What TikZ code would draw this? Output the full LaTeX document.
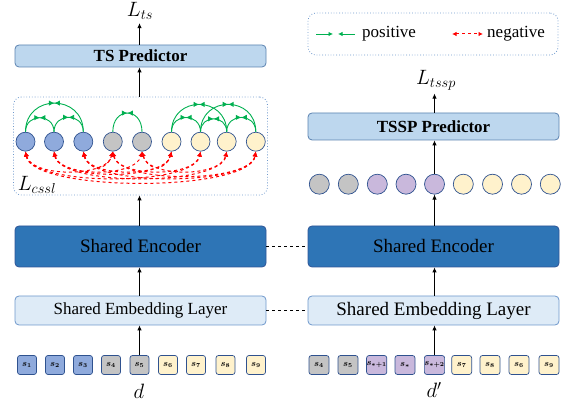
\documentclass[tikz,border=0pt]{standalone}
\usepackage{fontspec}
\setmainfont{Liberation Serif}[BoldFont={Liberation Serif Bold}, ItalicFont={Liberation Serif Italic}]
\usepackage{xcolor}
\usetikzlibrary{arrows, arrows.meta, calc, positioning, decorations.markings}
\definecolor{predblue}{HTML}{BDD7EE}
\definecolor{predline}{HTML}{5B82B0}
\definecolor{encblue}{HTML}{2E75B6}
\definecolor{encline}{HTML}{2F5597}
\definecolor{embblue}{HTML}{DEEBF7}
\definecolor{embline}{HTML}{6E98CC}
\definecolor{tokline}{HTML}{2F528F}
\definecolor{tokblue}{HTML}{8FAADC}
\definecolor{tokgrey}{HTML}{C4C4C4}
\definecolor{tokyellow}{HTML}{FFF2CC}
\definecolor{tokpurple}{HTML}{C9B8DC}
\definecolor{posgreen}{HTML}{00B050}
\definecolor{negred}{HTML}{FF0000}
\tikzset{
  % Graph arrow style
  garr/.style={
    line width = 0.8pt
    , -{Latex[length=5pt, width=4.5pt]}
  },
  % layer box style
  layer/.style={
    draw
    , line width=0.8pt
    , rounded corners=4pt
    , anchor=center
    , text centered
    , inner sep=0pt
    , minimum width=251pt
  },
  % token and circle styles
  tok/.style={
    draw=tokline
    , line width=0.7pt
    , rounded corners=2.5pt
    , inner sep=0pt
    , minimum width=19pt
    , minimum height=19pt
    , font=\fontsize{9}{9}\selectfont\boldmath
  },
  emb/.style={
    circle
    , draw=tokline
    , line width=0.7pt
    , inner sep=0pt
    , minimum size=19pt
  },
  % dashed box style
  dotbox/.style={
    draw=embline
    , dotted
    , line width=0.8pt
    , rounded corners=8pt
    , inner sep=0pt
  },
  posarc/.style={
    draw=posgreen
    , line width=0.9pt
    , postaction={decorate}
    , decoration={markings
      , mark=at position 0.5 with {\arrow{Latex[length=5.5pt, width=5.5pt]}}
      , mark=at position 0.5 with {\arrowreversed{Latex[length=5.5pt, width=5.5pt]}}}
  },
  negarr/.style={
    draw=negred
    , dashed
    , line width=1pt
    , {Latex[length=5pt, width=5pt]}-{Latex[length=5pt, width=5pt]}
  },
}

\begin{document}
\begin{tikzpicture}[x=1pt, y=1pt]
  \useasboundingbox (0,0) rectangle (564,401);

  % left branch
  \node[layer, fill=predblue, draw=predline, minimum height=22pt
       , font=\fontsize{17}{17}\selectfont\bfseries] (tsp) at (140.5,345) {TS Predictor};
  \node[font=\fontsize{20}{20}\selectfont] (lts) at (140,390) {$L_{ts}$};
  \node[dotbox, minimum width=254pt, minimum height=98pt] (grp) at (140.5,255) {};
  \node[layer, fill=encblue, draw=encline, minimum height=41pt
       , font=\fontsize{19}{19}\selectfont] (encl) at (140.5,154.5) {Shared Encoder};
  \node[layer, fill=embblue, draw=embline, minimum height=29pt
       , font=\fontsize{17}{17}\selectfont] (embl) at (140.5,90.5) {Shared Embedding Layer};

  \foreach \i/\x/\c in {1/25.5/tokblue, 2/54/tokblue, 3/83.3/tokblue,
                        4/112.8/tokgrey, 5/142/tokgrey, 6/171.5/tokyellow,
                        7/200.5/tokyellow, 8/226.7/tokyellow, 9/255.8/tokyellow}
    \node[emb, fill=\c] (cl\i) at (\x,259.3) {};
  \foreach \i/\x/\c in {1/27/tokblue, 2/55/tokblue, 3/83/tokblue,
                        4/111/tokgrey, 5/139.5/tokgrey, 6/168/tokyellow,
                        7/196/tokyellow, 8/225.5/tokyellow, 9/256/tokyellow}
    \node[tok, fill=\c] (tl\i) at (\x,36) {$s_{\i}$};

  \node[font=\fontsize{20}{20}\selectfont] (lcssl) at (37,216) {$L_{cssl}$};
  \node[font=\fontsize{20}{20}\selectfont] (dl) at (139,10) {$d$};

  % positive pairs
  \foreach \a/\b/\l in {1/2/1.7, 2/3/1.7, 1/3/1.7, 4/5/2.2, 6/7/1.7,
                        7/8/1.7, 8/9/1.7, 6/8/1.7, 7/9/1.7}
    \draw[posarc] (cl\a.north) to[out=90, in=90, looseness=\l] (cl\b.north);
  % negative pairs
  \foreach \a/\b in {1/4, 1/7, 1/9, 2/5, 2/8, 3/4, 3/6, 3/9,
                     4/7, 5/6, 5/8, 4/9, 2/6} {
    \pgfmathsetmacro{\h}{17+3*(\b-\a)}
    \draw[negarr] (cl\a.south)
      .. controls ($(cl\a.south)+(6,-\h)$) and ($(cl\b.south)+(-6,-\h)$) ..
      (cl\b.south);
  }

  \draw[garr] (tl5.north) -- (tl5.north |- embl.south);
  \draw[garr] (tl5.north |- embl.north) -- (tl5.north |- encl.south);
  \draw[garr] (tl5.north |- encl.north) -- (tl5.north |- grp.south);
  \draw[garr] (tl5.north |- grp.north) -- (tl5.north |- tsp.south);
  \draw[garr] (tsp.north -| tl5.north) -- (tl5.north |- lts.south);

  % right branch
  \node[dotbox, minimum width=250pt, minimum height=42pt] (leg) at (433,367) {};
  \node[layer, fill=predblue, draw=predline, minimum height=27pt
       , font=\fontsize{17}{17}\selectfont\bfseries] (tssp) at (433.5,274.5) {TSSP Predictor};
  \node[font=\fontsize{20}{20}\selectfont] (ltssp) at (436,321) {$L_{tssp}$};
  \node[layer, fill=encblue, draw=encline, minimum height=41pt
       , font=\fontsize{19}{19}\selectfont] (encr) at (433.5,154.5) {Shared Encoder};
  \node[layer, fill=embblue, draw=embline, minimum height=29pt
       , font=\fontsize{19}{19}\selectfont] (embr) at (433.5,90.5) {Shared Embedding Layer};

  \foreach \i/\x/\c in {1/319.3/tokgrey, 2/348.3/tokgrey, 3/377.3/tokpurple,
                        4/406/tokpurple, 5/434.5/tokpurple, 6/463.3/tokyellow,
                        7/492.5/tokyellow, 8/521.5/tokyellow, 9/550.3/tokyellow}
    \node[emb, fill=\c, minimum size=20pt] (cr\i) at (\x,216.8) {};
  \foreach \i/\x/\c/\s in {1/319/tokgrey/4, 2/348/tokgrey/5, 3/376.7/tokpurple/{*+1},
                           4/405/tokpurple/{*}, 5/434.5/tokpurple/{*+2}, 6/461.7/tokyellow/7,
                           7/490/tokyellow/8, 8/519/tokyellow/6, 9/549/tokyellow/9}
    \node[tok, fill=\c, minimum width=20pt] (tr\i) at (\x,36) {$s_{\s}$};

  \node[font=\fontsize{20}{20}\selectfont] (dr) at (434,11) {$d'$};

  \draw[garr] (tr5.north) -- (tr5.north |- embr.south);
  \draw[garr] (tr5.north |- embr.north) -- (tr5.north |- encr.south);
  \draw[garr] (cr5.south |- encr.north) -- (cr5.south);
  \draw[garr] (cr5.north) -- (cr5.north |- tssp.south);
  \draw[garr] (tssp.north -| cr5.north) -- (cr5.north |- ltssp.south);

  % shared weights
  \draw[dashed, line width=0.7pt] (encl.east) -- (encr.west);
  \draw[dashed, line width=0.7pt] (embl.east) -- (embr.west);

  % legend
  \coordinate (pa1) at (316,367);
  \coordinate (pa2) at (333,367);
  \coordinate (pb1) at (355,367);
  \coordinate (pb2) at (338,367);
  \coordinate (na1) at (452,367);
  \coordinate (na2) at (483,367);
  \draw[garr, draw=posgreen, -{Latex[length=4.5pt, width=4.5pt]}] (pa1) -- (pa2);
  \draw[garr, draw=posgreen, -{Latex[length=4.5pt, width=4.5pt]}] (pb1) -- (pb2);
  \node[anchor=west, inner sep=0pt, font=\fontsize{17}{17}\selectfont] (pos) at (362,367) {positive};
  \draw[negarr, {Latex[length=4.5pt, width=4.5pt]}-{Latex[length=4.5pt, width=4.5pt]}] (na1) -- (na2);
  \node[anchor=west, inner sep=0pt, font=\fontsize{17}{17}\selectfont] (neg) at (487,367) {negative};
\end{tikzpicture}
\end{document}
